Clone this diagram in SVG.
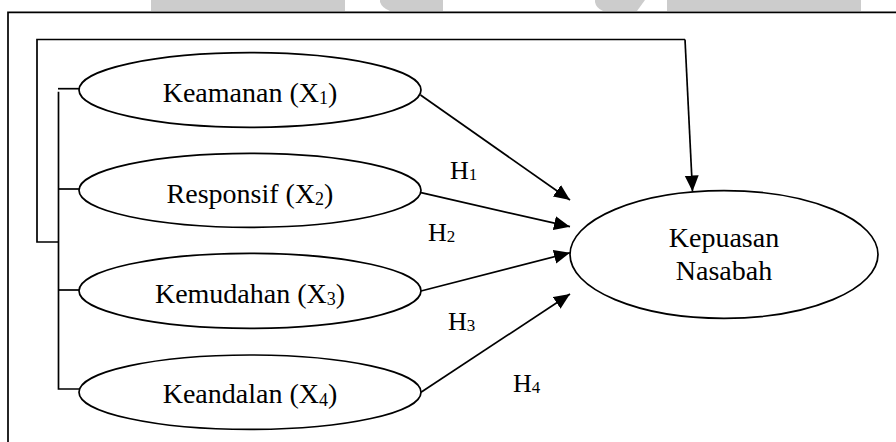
<svg xmlns="http://www.w3.org/2000/svg" width="896" height="442" viewBox="0 0 896 442">
  <style>
    .band { fill: #cccccc; }
    .line { fill: none; stroke: #000; stroke-width: 1.7; }
    .node { fill: #fff; stroke: #000; stroke-width: 1.7; }
    .lbl { font-family: "Liberation Serif", "Times New Roman", serif; font-size: 28px; fill: #000; }
    .hyp { font-family: "Liberation Serif", "Times New Roman", serif; font-size: 26px; fill: #000; }
    .sub { font-size: 18px; }
    .hsub { font-size: 17px; }
  </style>
  <defs>
    <marker id="arrow" markerUnits="userSpaceOnUse" markerWidth="17" markerHeight="15" refX="16" refY="7" orient="auto">
      <path d="M0,0 L16,7 L0,14 Z" fill="#000"/>
    </marker>
  </defs>

  <rect width="896" height="442" fill="#fff"/>

  <!-- grey header band fragments -->
  <g id="header-band">
    <rect class="band" x="151" y="0" width="194" height="11"/>
    <path class="band" d="M380,0 H443 V11 H390 Q382,8 380,2 Z"/>
    <path class="band" d="M595,0 H645 L637,11 H603 Q596,8 595,2 Z"/>
    <rect class="band" x="667" y="0" width="194" height="11"/>
  </g>

  <!-- outer frame -->
  <g id="frame">
    <path class="line" d="M8,442 V12.3 H896"/>
  </g>

  <!-- connectors -->
  <g id="connectors">
    <!-- joint path of all four variables to satisfaction -->
    <path class="line" d="M59,242 H37 V39.5 H685"/>
    <path class="line" d="M685,39.5 L692.5,191.5" marker-end="url(#arrow)"/>
    <!-- bracket linking the four variables -->
    <path class="line" d="M58.5,91.7 V389 H79"/>
    <path class="line" d="M58,88.7 H79"/>
    <path class="line" d="M58.5,189 H79"/>
    <path class="line" d="M58.5,290 H79"/>
    <!-- hypothesis paths -->
    <path class="line" d="M420.5,95 L570,200" marker-end="url(#arrow)"/>
    <path class="line" d="M421,192.7 L570,226.7" marker-end="url(#arrow)"/>
    <path class="line" d="M421,291 L570,252.7" marker-end="url(#arrow)"/>
    <path class="line" d="M421,392.3 L570,294" marker-end="url(#arrow)"/>
  </g>

  <!-- hypothesis labels -->
  <g id="labels">
    <text class="hyp" x="450" y="179.3">H<tspan class="hsub" dy="1">1</tspan></text>
    <text class="hyp" x="428" y="240.5">H<tspan class="hsub" dy="1">2</tspan></text>
    <text class="hyp" x="448" y="330">H<tspan class="hsub" dy="1">3</tspan></text>
    <text class="hyp" x="513" y="391.7">H<tspan class="hsub" dy="1">4</tspan></text>
  </g>

  <g id="x1">
    <ellipse class="node" cx="250" cy="90" rx="171" ry="37.3"/>
    <text class="lbl" x="250" y="101.7" text-anchor="middle">Keamanan (X<tspan class="sub" dy="2.5">1</tspan><tspan dy="-2.5">)</tspan></text>
  </g>
  <g id="x2">
    <ellipse class="node" cx="250" cy="190.3" rx="171" ry="37"/>
    <text class="lbl" x="250" y="202.5" text-anchor="middle">Responsif (X<tspan class="sub" dy="2.5">2</tspan><tspan dy="-2.5">)</tspan></text>
  </g>
  <g id="x3">
    <ellipse class="node" cx="250" cy="290.8" rx="171" ry="37.5"/>
    <text class="lbl" x="250" y="302.7" text-anchor="middle">Kemudahan (X<tspan class="sub" dy="2.5">3</tspan><tspan dy="-2.5">)</tspan></text>
  </g>
  <g id="x4">
    <ellipse class="node" cx="250" cy="392.2" rx="171" ry="37.2"/>
    <text class="lbl" x="250" y="403.3" text-anchor="middle">Keandalan (X<tspan class="sub" dy="2.5">4</tspan><tspan dy="-2.5">)</tspan></text>
  </g>
  <g id="y">
    <ellipse class="node" cx="724" cy="254.5" rx="154" ry="63.8"/>
    <text class="lbl" x="724" y="247.3" text-anchor="middle" font-size="28.5">Kepuasan</text>
    <text class="lbl" x="724" y="280" text-anchor="middle" font-size="28.5">Nasabah</text>
  </g>
</svg>
